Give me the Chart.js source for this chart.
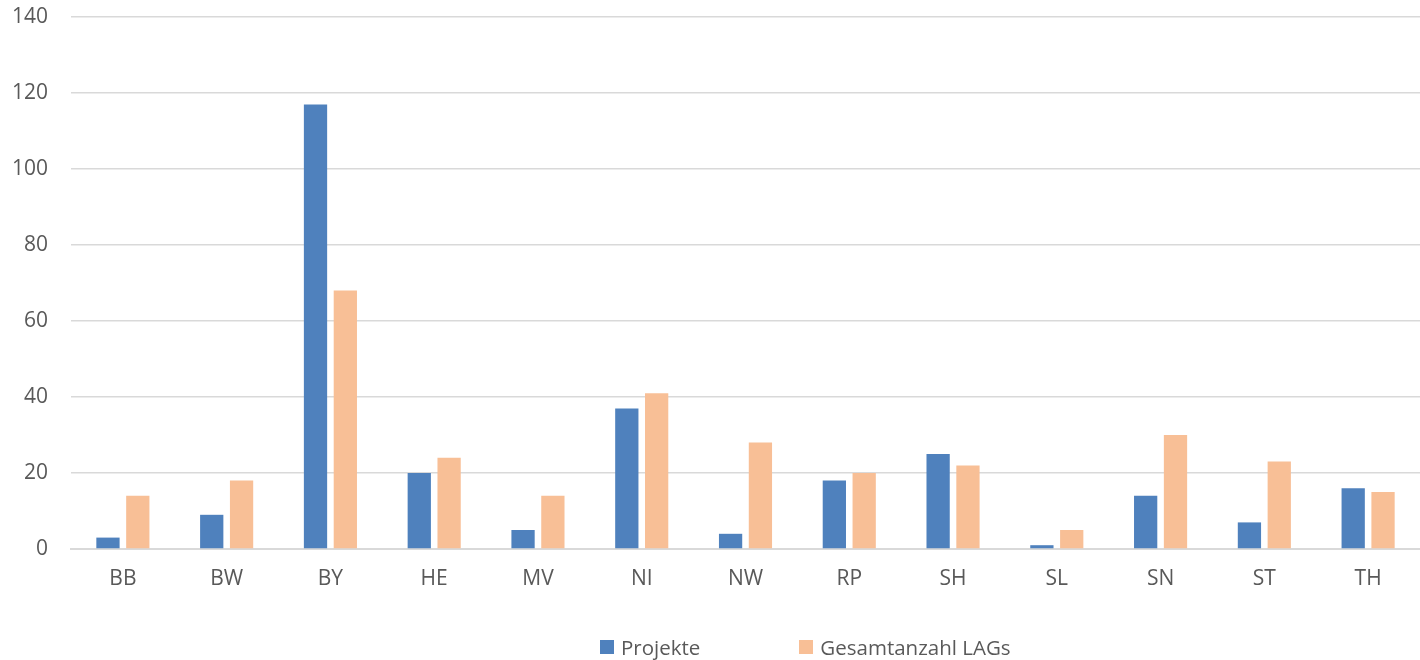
<!DOCTYPE html>
<html>
<head>
<meta charset="utf-8">
<script src="https://cdn.jsdelivr.net/npm/chart.js@4.4.1/dist/chart.umd.min.js"></script>
<style>
  html, body { margin: 0; padding: 0; background: #fff; }
  #wrap { position: relative; width: 1420px; height: 660px; }
  #c { display: block; }
  #legend { position: absolute; left: 600px; top: 633px; display: flex;
            font-family: "Open Sans", sans-serif; font-size: 20.5px; color: #595959; }
  .item { display: flex; align-items: center; }
  .item + .item { margin-left: 99px; }
  .sw { width: 14px; height: 14px; margin-right: 7px; }
</style>
</head>
<body>
<div id="wrap">
  <canvas id="c" width="1420" height="660"></canvas>
  <div id="legend"></div>
</div>
<script>
const categories = ["BB","BW","BY","HE","MV","NI","NW","RP","SH","SL","SN","ST","TH"];
const projekte = [3, 9, 117, 20, 5, 37, 4, 18, 25, 1, 14, 7, 16];
const gesamtLAGs = [14, 18, 68, 24, 14, 41, 28, 20, 22, 5, 30, 23, 15];
const seriesNames = ["Projekte", "Gesamtanzahl LAGs"];
const seriesColors = ["#4F81BD", "#F8BF96"];
const yTicks = [0, 20, 40, 60, 80, 100, 120, 140];

const legend = document.getElementById('legend');
seriesNames.forEach((n, i) => {
  const d = document.createElement('div'); d.className = 'item';
  const s = document.createElement('div'); s.className = 'sw'; s.style.background = seriesColors[i];
  const t = document.createElement('span'); t.textContent = n;
  d.appendChild(s); d.appendChild(t); legend.appendChild(d);
});

new Chart(document.getElementById('c'), {
  type: 'bar',
  data: {
    labels: categories,
    datasets: [
      { label: seriesNames[0], data: projekte, backgroundColor: seriesColors[0] },
      { label: seriesNames[1], data: gesamtLAGs, backgroundColor: seriesColors[1] }
    ]
  },
  options: {
    responsive: false,
    animation: false,
    layout: { padding: { top: 17, right: 0, bottom: 0, left: 0 } },
    datasets: { bar: { categoryPercentage: 0.575, barPercentage: 0.78 } },
    plugins: { legend: { display: false }, tooltip: { enabled: false } },
    scales: {
      x: {
        grid: { display: false, drawTicks: false },
        border: { display: true, color: '#D9D9D9', width: 2 },
        ticks: { color: '#595959', font: { family: 'Open Sans', size: 21 }, padding: 17 },
        afterFit: (a) => { a.height = 111; a.paddingTop = 0; }
      },
      y: {
        min: 0, max: 140,
        afterBuildTicks: (a) => { a.ticks = yTicks.map(v => ({ value: v })); },
        grid: { color: '#D9D9D9', lineWidth: 1.5, drawTicks: false },
        border: { display: false },
        ticks: { color: '#595959', font: { family: 'Open Sans', size: 21 }, padding: 23 },
        afterFit: (a) => { a.width = 71; a.paddingTop = 0; a.paddingBottom = 0; }
      }
    }
  }
});
</script>
</body>
</html>
